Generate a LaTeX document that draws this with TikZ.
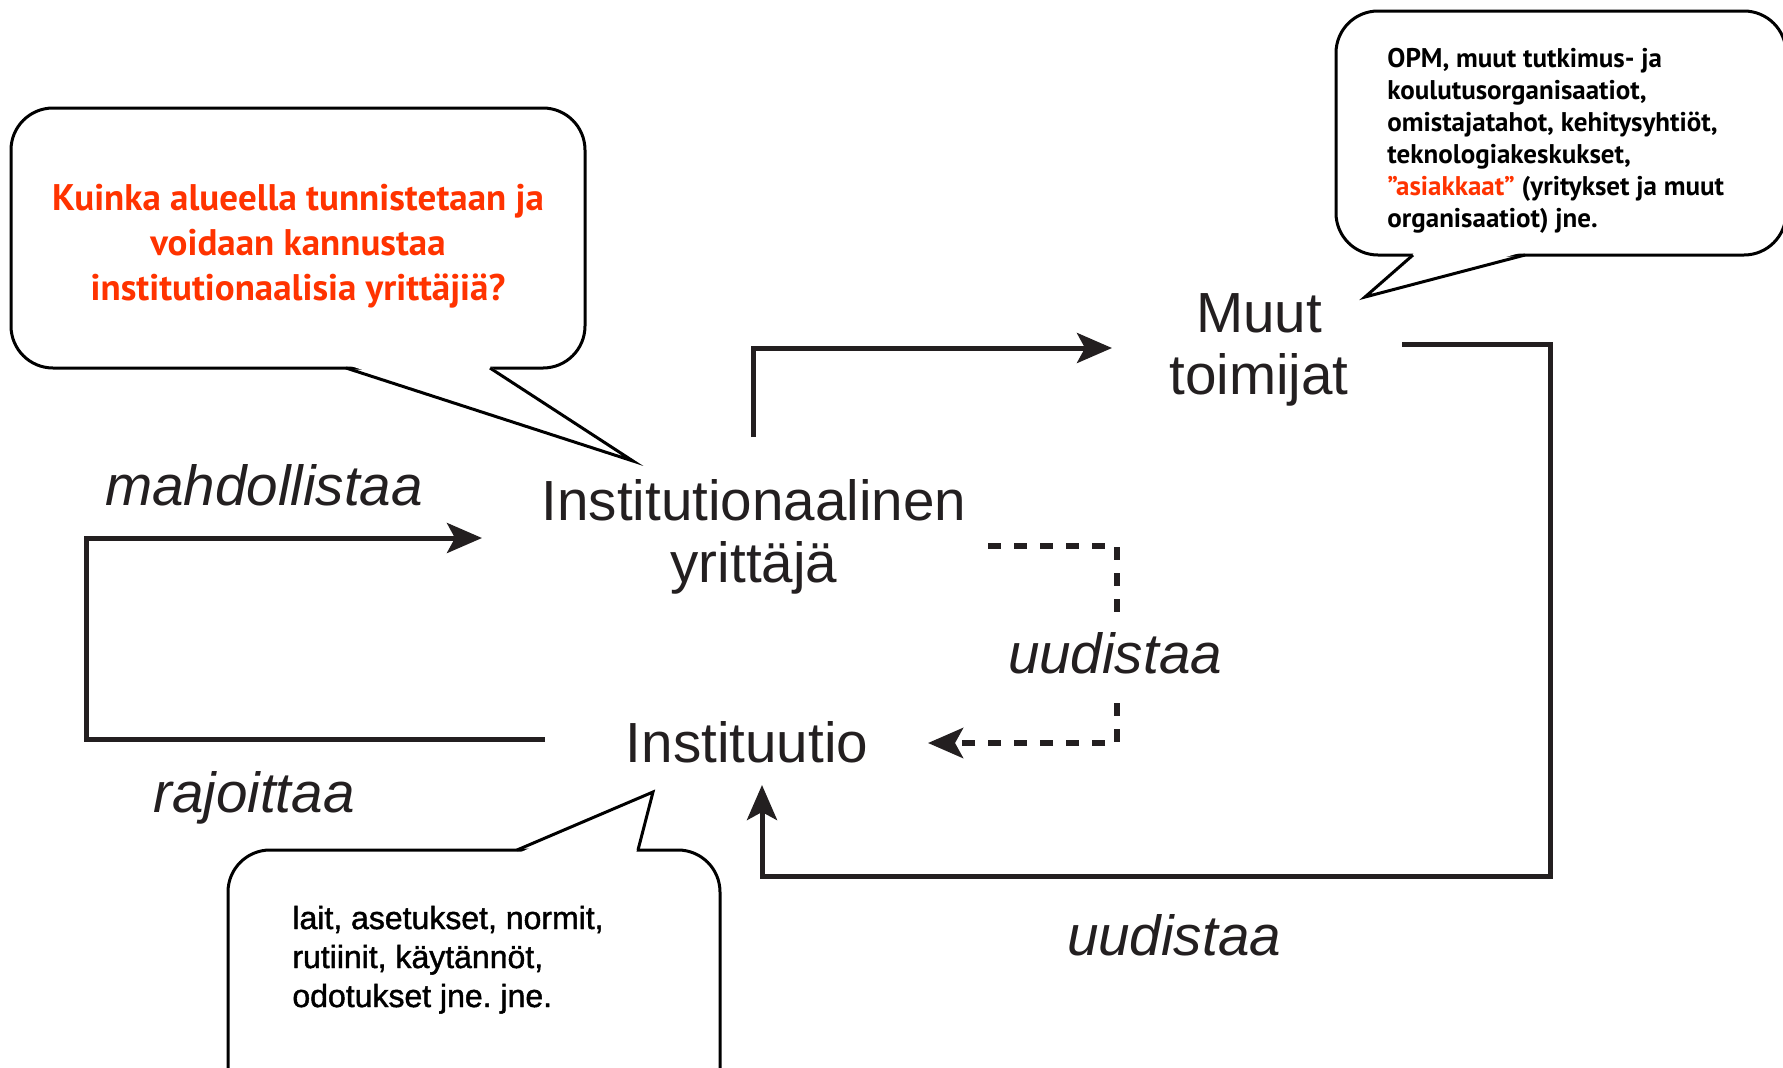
\documentclass[tikz,border=0pt]{standalone}
\usepackage{fontspec}
\setmainfont{Liberation Sans}
\newfontfamily\bubfont{PT Sans}
\newfontfamily\btmfont[FakeBold=1.4]{Liberation Sans}
\usetikzlibrary{arrows.meta}
\definecolor{ink}{HTML}{231F20}
\definecolor{qred}{HTML}{FF3300}
\frenchspacing
\tikzset{
  conn/.style={draw=ink, line width=2.5pt, -{Stealth[length=17.5pt,width=15pt,inset=4pt]}},
  dconn/.style={conn, line width=3pt, dash pattern=on 6.5pt off 6.5pt},
  bubble/.style={draw=black, line width=1.5pt, rounded corners=21pt},
  tailline/.style={draw=black, line width=1.5pt, line join=miter},
  lbl/.style={font=\fontsize{28.3}{31}\selectfont, text=ink, inner sep=0pt, align=center},
  ilbl/.style={font=\fontsize{28.3}{31}\selectfont\itshape, text=ink, inner sep=0pt},
  redq/.style={font=\bubfont\bfseries\fontsize{18.5}{22.5}\selectfont, text=qred, inner sep=0pt, align=center},
  rtxt/.style={font=\bubfont\bfseries\fontsize{13.5}{16}\selectfont, text=black, inner sep=0pt, align=left},
  btxt/.style={font=\btmfont\fontsize{16}{19.5}\selectfont\frenchspacing, text=black, inner sep=0pt, align=left}
}
\begin{document}
\begin{tikzpicture}[x=0.5pt,y=-0.5pt]
\useasboundingbox (0,0) rectangle (1783,1067);
\clip (0,0) rectangle (1783,1067);

% ---- bubbles ----
% left (question)
\draw[bubble] (11,108) rectangle (585,368);
\fill[white] (348,365) -- (633,461) -- (488,365) -- cycle;
\draw[tailline] (346,368) -- (633,461) -- (490,368);
% right
\draw[bubble] (1336,11) rectangle (1786,255);
\fill[white] (1415,252) -- (1365,297) -- (1523,252) -- cycle;
\draw[tailline] (1413,255) -- (1365,297) -- (1525,255);
% bottom
\draw[bubble] (228,850) rectangle (720,1120);
\fill[white] (519,853) -- (653,792) -- (636,853) -- cycle;
\draw[tailline] (517,850) -- (653,792) -- (638,850);

% ---- bubble texts (anchor base = last line baseline) ----
\node[redq, anchor=base] (q) at (298,300) {Kuinka alueella tunnistetaan ja\\voidaan kannustaa\\institutionaalisia yrittäjiä?};
\node[rtxt, anchor=base west] (orgs) at (1387,227) {OPM, muut tutkimus- ja\\koulutusorganisaatiot,\\omistajatahot, kehitysyhtiöt,\\teknologiakeskukset,\\\textcolor{qred}{”asiakkaat”} (yritykset ja muut\\organisaatiot) jne.};
\node[btxt, anchor=base west] (norms) at (292,1007) {lait, asetukset, normit,\\rutiinit, käytännöt,\\odotukset jne. jne.};

% ---- main labels ----
\node[lbl, anchor=base] (ie) at (754,582) {Institutionaalinen\\yrittäjä};
\node[lbl, anchor=base] (mt) at (1259,394) {Muut\\toimijat};
\node[lbl, anchor=base] (inst) at (747,762) {Instituutio};
\node[ilbl, anchor=base] (mahd) at (264,505) {mahdollistaa};
\node[ilbl, anchor=base] (raj) at (254,812) {rajoittaa};
\node[ilbl, anchor=base] (uud2) at (1174,955) {uudistaa};

% ---- connector end points ----
\coordinate (a1) at (545,739);
\coordinate (a2) at (482,538);
\coordinate (b1) at (753,437);
\coordinate (b2) at (1112,348);
\coordinate (c1) at (1402,344);
\coordinate (c2) at (762,785);
\coordinate (d1) at (988,546);
\coordinate (d2) at (928,743);

% ---- connectors ----
\draw[conn] (a1) -- ++(-459,0) |- (a2);
\draw[conn] (b1) |- (b2);
\draw[conn] (c1) -| ++(148,532) -| (c2);
\draw[dconn] (d1) -| ++(129,197) -- (d2);
\node[ilbl, anchor=base, fill=white, inner ysep=8pt] (uud1) at (1115,673) {uudistaa};
\end{tikzpicture}
\end{document}
